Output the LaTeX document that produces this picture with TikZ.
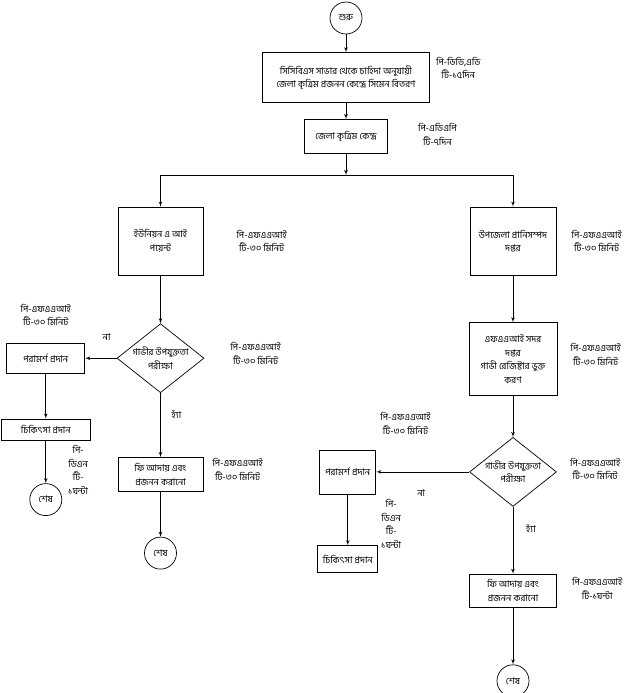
\documentclass[tikz,border=0pt]{standalone}
\usepackage{fontspec}
\setmainfont{Hind Siliguri}[Script=Bengali]
\usetikzlibrary{shapes,arrows,positioning}

\begin{document}
\begin{tikzpicture}[
        x=1pt, y=1pt,
        font=\fontsize{9.3}{13.5}\selectfont,
        box/.style={rectangle, draw, fill=white, align=center, inner sep=1pt, line width=0.7pt},
        terminal/.style={circle, draw, minimum size=32pt, inner sep=0pt, line width=0.7pt},
        decision/.style={diamond, draw, minimum width=87pt, minimum height=69pt, inner sep=0pt, line width=0.7pt},
        note/.style={align=center, inner sep=1pt},
        arrow/.style={draw, -latex', line width=0.7pt}
    ]
    \useasboundingbox (0,0) rectangle (631,-693);

    % Start and district level
    \node [terminal] (start) at (346,-18) {শুরু};
    \node [box, minimum width=167pt, minimum height=50pt, below=18pt of start] (supply) {সিসিবিএস সাভার থেকে চাহিদা অনুযায়ী\\জেলা কৃত্রিম প্রজনন কেন্দ্রে সিমেন বিতরণ};
    \node [note, right=5pt of supply, yshift=10pt] {পি-ডিডি,এডি\\টি-১৫দিন};

    \node [box, minimum width=83pt, minimum height=34pt, below=16pt of supply] (district) {জেলা কৃত্রিম কেন্দ্র};
    \node [note, right=29pt of district, yshift=2pt] {পি-এডিএপি\\টি-৭দিন};

    \coordinate (split) at (346,-175);

    % Left branch: union AI point
    \node [box, minimum width=85pt, minimum height=68pt] (uap) at (160.5,-241) {ইউনিয়ন এ আই\\পয়েন্ট};
    \node [note, right=32pt of uap] {পি-এফএএআই\\টি-৩০ মিনিট};

    \node [decision, below=48pt of uap, label={[align=center]center:গাভীর উপযুক্ততা\\পরীক্ষা}] (testL) {};
    \node [note, right=25pt of testL, yshift=5pt] {পি-এফএএআই\\টি-৩০ মিনিট};
    \node [note, above left=17pt and 5pt of testL.west] (noL) {না};
    \node [note, below right=16pt and 10pt of testL.south] (yesL) {হ্যাঁ};

    \node [box, minimum width=78pt, minimum height=30pt, left=31.5pt of testL] (advL) {পরামর্শ প্রদান};
    \node [note, above=16pt of advL] {পি-এফএএআই\\টি-৩০ মিনিট};
    \node [box, minimum width=89pt, minimum height=21pt, below=45pt of advL] (treatL) {চিকিৎসা প্রদান};
    \node [note, below=4pt of treatL.south east, xshift=-12.5pt] {পি-\\ডিএন\\টি-\\১ঘন্টা};
    \node [terminal, below=43pt of treatL] (endL) {শেষ};

    \node [box, minimum width=85pt, minimum height=34pt, below=64pt of testL] (feeL) {ফি আদায় এবং\\প্রজনন করানো};
    \node [note, right=8pt of feeL, yshift=5pt] {পি-এফএএআই\\টি-৩০ মিনিট};
    \node [terminal, below=45pt of feeL] (endL2) {শেষ};

    % Right branch: upazila office
    \node [box, minimum width=86pt, minimum height=68pt] (upz) at (513,-241) {উপজেলা প্রানিসম্পদ\\দপ্তর};
    \node [note, right=14pt of upz] {পি-এফএএআই\\টি-৩০ মিনিট};

    \node [box, minimum width=88pt, minimum height=73pt, below=47pt of upz] (hq) {এফএএআই সদর\\দপ্তর\\গাভী রেজিষ্টার ভুক্ত\\করণ};
    \node [note, right=12pt of hq, yshift=5pt] {পি-এফএএআই\\টি-৩০ মিনিট};

    \node [decision, below=41pt of hq, label={[align=center]center:গাভীর উপযুক্ততা\\পরীক্ষা}] (testR) {};
    \node [note, right=12pt of testR, yshift=3pt] {পি-এফএএআই\\টি-৩০ মিনিট};
    \node [note, below right=16pt and 12pt of testR.south] (yesR) {হ্যাঁ};

    \node [box, minimum width=56pt, minimum height=44pt, left=93pt of testR] (advR) {পরামর্শ প্রদান};
    \node [note, above right=14pt and 3pt of advR.north east] {পি-এফএএআই\\টি-৩০ মিনিট};
    \node [note, below right=17pt and 40pt of advR.east] (noR) {না};
    \node [box, minimum width=60pt, minimum height=27pt, below=51pt of advR] (treatR) {চিকিৎসা প্রদান};
    \node [note, below=4pt of advR.south east, xshift=15pt] {পি-\\ডিএন\\টি-\\১ঘন্টা};

    \node [box, minimum width=87pt, minimum height=33pt, below=67pt of testR] (feeR) {ফি আদায় এবং\\প্রজনন করানো};
    \node [note, right=14pt of feeR, yshift=2pt] {পি-এফএএআই\\টি-১ঘন্টা};
    \node [terminal, below=57pt of feeR] (endR) {শেষ};

    % Main flow arrows
    \path [arrow] (start) -- (supply);
    \path [arrow] (supply) -- (district);
    \path [arrow] (district) -- (split);
    \path [arrow] (split) -| (uap);
    \path [arrow] (split) -| (upz);

    \path [arrow] (uap) -- (testL);
    \path [arrow] (testL) -- (advL);
    \path [arrow] (advL) -- (treatL);
    \path [arrow] (treatL) -- (endL);
    \path [arrow] (testL) -- (feeL);
    \path [arrow] (feeL) -- (endL2);

    \path [arrow] (upz) -- (hq);
    \path [arrow] (hq) -- (testR);
    \path [arrow] (testR) -- (advR);
    \path [arrow] (advR) -- (treatR);
    \path [arrow] (testR) -- (feeR);
    \path [arrow] (feeR) -- (endR);

\end{tikzpicture}
\end{document}
